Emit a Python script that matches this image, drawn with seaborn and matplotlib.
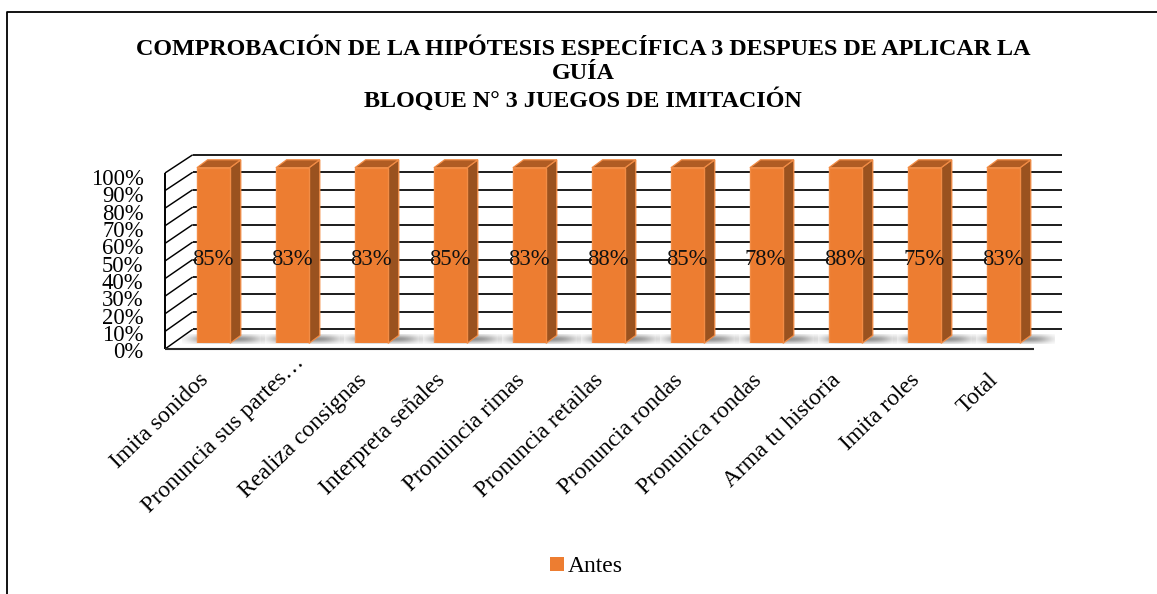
import numpy as np
import pandas as pd
import matplotlib
matplotlib.use("Agg")
import matplotlib.pyplot as plt
from matplotlib.patches import Polygon, Rectangle
import seaborn as sns

categories = ["Imita sonidos", "Pronuncia sus partes…", "Realiza consignas",
              "Interpreta señales", "Pronuincia rimas", "Pronuncia retailas",
              "Pronuncia rondas", "Pronunica rondas", "Arma tu historia",
              "Imita roles", "Total"]
label_values = [85, 83, 83, 85, 83, 88, 85, 78, 88, 75, 83]
stacked_share = [100] * 11
y_ticks = [0, 10, 20, 30, 40, 50, 60, 70, 80, 90, 100]
series_name = "Antes"
title_text = ("COMPROBACIÓN DE LA HIPÓTESIS ESPECÍFICA 3 DESPUES DE APLICAR LA\n"
              "GUÍA\nBLOQUE N° 3 JUEGOS DE IMITACIÓN")

W, H = 1157, 594
sns.set_theme(style="white")
plt.rcParams["font.family"] = ["Liberation Serif", "DejaVu Serif"]
fig = plt.figure(figsize=(W / 100, H / 100), dpi=100, facecolor="white")

# axes = the plane of the bar fronts
L, R, T, B = 174.0, 1043.0, 167.7, 343.3
ax = fig.add_axes([L / W, 1 - B / H, (R - L) / W, (B - T) / H])
df = pd.DataFrame({"cat": categories, "share": stacked_share})
BAR_W = 0.42
sns.barplot(data=df, x="cat", y="share", color="#ED7D31", saturation=1, width=BAR_W,
            ax=ax, edgecolor="#F28C45", linewidth=1.0, zorder=5)
ax.set_xlim(-0.5, 10.5)
ax.set_ylim(0, 100)
ax.axis("off")

xu = 1 / ((R - L) / 11)          # data units per pixel in x
yu = 100 / (B - T)               # data units per pixel in y


def ox(px):
    return px * xu


def oy(px):
    return -px * yu  # positive px = downwards


n = len(categories)
x0, x1 = -0.5, 10.5
front = (-9.0, 5.7)   # front plane relative to bar plane, in pixels
back = (18.7, -14.0)  # back plane relative to bar plane, in pixels
scale = 174.5 / 175.6
line_kw = dict(color="black", lw=1.25, clip_on=False, solid_capstyle="butt", zorder=1)

for t in y_ticks:
    yb = t * scale + oy(back[1])
    yf = t * (176.0 / 175.6) + oy(front[1])
    ax.plot([x0 + ox(back[0]), x1 + ox(back[0])], [yb, yb], **line_kw)
    ax.plot([x0 + ox(front[0]), x0 + ox(back[0])], [yf, yb], **{**line_kw, "lw": 1.05})
    ax.text(x0 + ox(143.5 - L), t * (173.5 / 175.6) + oy(front[1]) - 2.2, f"{t}%",
            ha="right", va="center", fontsize=16.3, color="black", clip_on=False)

yf0 = oy(front[1])
yf1 = 100 * (176.0 / 175.6) + yf0
ax.plot([x0 + ox(front[0])] * 2, [yf0, yf1], **{**line_kw, "lw": 1.4})
ax.plot([x0 + ox(front[0]), x1 + ox(front[0])], [yf0, yf0], **{**line_kw, "lw": 1.5, "color": "#2a2a2a"})

# floor shadows
sy = np.linspace(0, 1, 24)
sx = np.linspace(0, 1, 90)
gx = np.exp(-((sx - 0.52) / 0.42) ** 4)
gy = np.exp(-((sy - 0.5) / 0.42) ** 2)
alpha = np.outer(gy, gx) * 0.62
shadow = np.zeros(alpha.shape + (4,))
shadow[..., :3] = 0.3
shadow[..., 3] = alpha
for i in range(n):
    ax.imshow(shadow, extent=(i - BAR_W / 2 + ox(-15), i + BAR_W / 2 + ox(34),
                              oy(0.5), oy(-9.5)),
              aspect="auto", zorder=2, clip_on=False, interpolation="bilinear")
ax.set_xlim(-0.5, 10.5)
ax.set_ylim(0, 100)

# 3-D faces and labels
dx, dy = ox(10.7), oy(-7.9)
for i, (s, v) in enumerate(zip(stacked_share, label_values)):
    xl, xr = i - BAR_W / 2, i + BAR_W / 2
    ax.add_patch(Polygon([(xr, 0), (xr + dx, dy), (xr + dx, s + dy), (xr, s)],
                         facecolor="#9A521F", edgecolor="#F28C45", lw=0.9,
                         clip_on=False, zorder=4))
    ax.add_patch(Polygon([(xl, s), (xl + dx, s + dy), (xr + dx, s + dy), (xr, s)],
                         facecolor="#B05C23", edgecolor="#F28C45", lw=0.9,
                         clip_on=False, zorder=4))
    ax.text(i - ox(0.8), 48.0, f"{v}%", ha="center", va="center", fontsize=16.3,
            color="#111111", zorder=7)

# category labels (the truncated one runs further along its slant)
for i, c in enumerate(categories):
    extra = (17, 18) if c.endswith("…") else (0, 0)
    ax.annotate(c, xy=(i, 0), xycoords="data", xytext=(-8 + extra[0], -34 + extra[1]),
                textcoords="offset pixels", rotation=44, rotation_mode="anchor",
                ha="right", va="center", fontsize=16.8, color="black",
                annotation_clip=False)

fig.text(583 / W, 1 - 75.5 / H, title_text, ha="center", va="center", fontsize=17.4,
         fontweight="bold", color="black", linespacing=1.22)

# legend
fig.add_artist(Rectangle((550 / W, 1 - 571 / H), 13.5 / W, 14 / H,
                         transform=fig.transFigure, facecolor="#ED7D31", edgecolor="none"))
fig.text(568 / W, 1 - 566.5 / H, series_name, ha="left", va="center", fontsize=17, color="black")

# outer frame
fig.add_artist(plt.Line2D([6.5 / W, 6.5 / W, 1157 / W], [0, 1 - 11.5 / H, 1 - 11.5 / H],
                          transform=fig.transFigure, color="black", lw=1.3))

fig.savefig("out.png", dpi=100, facecolor="white")
